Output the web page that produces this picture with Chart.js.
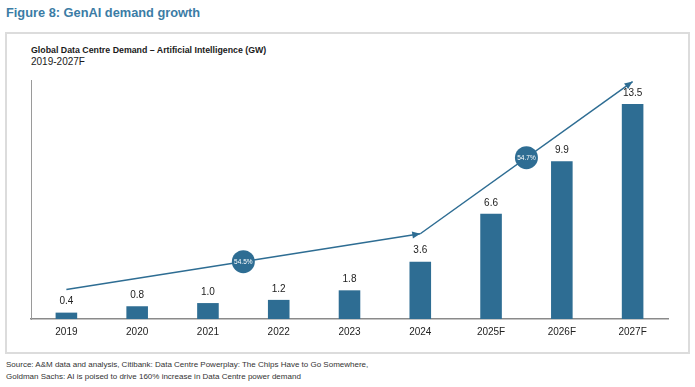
<!DOCTYPE html>
<html>
<head>
<meta charset="utf-8">
<script src="https://cdn.jsdelivr.net/npm/chart.js@4.4.1/dist/chart.umd.min.js"></script>
<style>
  html, body { margin: 0; padding: 0; background: #fff; }
  body { width: 695px; height: 387px; position: relative; overflow: hidden;
         font-family: "Liberation Sans", Arial, Helvetica, sans-serif; }
  .heading { position: absolute; left: 6px; top: 5px; font-size: 12.8px; line-height: 16px;
             font-weight: bold; color: #3b7ca5; white-space: nowrap; }
  .panel { position: absolute; left: 5px; top: 32px; width: 685px; height: 322px;
           box-sizing: border-box; border: 2px solid #dcdcdc; }
  .title { position: absolute; left: 31px; top: 45px; font-size: 8.8px; line-height: 11px;
           font-weight: bold; color: #1a1a1a; white-space: nowrap; }
  .subtitle { position: absolute; left: 31px; top: 56px; font-size: 10px; line-height: 12px;
              color: #1a1a1a; white-space: nowrap; }
  .source { position: absolute; left: 6px; top: 359px; font-size: 8px; line-height: 12px;
            color: #333; white-space: nowrap; }
  #chart { position: absolute; left: 0; top: 0; }
</style>
</head>
<body>
<div class="heading">Figure 8: GenAI demand growth</div>
<div class="panel"></div>
<div class="title">Global Data Centre Demand – Artificial Intelligence (GW)</div>
<div class="subtitle">2019-2027F</div>
<div class="source">Source: A&amp;M data and analysis, Citibank: Data Centre Powerplay: The Chips Have to Go Somewhere,<br>Goldman Sachs: AI is poised to drive 160% increase in Data Centre power demand</div>
<canvas id="chart" width="695" height="387"></canvas>

<script>
// chart values
const years = ['2019', '2020', '2021', '2022', '2023', '2024', '2025F', '2026F', '2027F'];
const demandGW = [0.4, 0.8, 1.0, 1.2, 1.8, 3.6, 6.6, 9.9, 13.5];

// growth arrows (start / end heights)
const trendEarly = [1.85, null, null, null, null, 5.35, null, null, null];
const trendLate = [null, null, null, null, null, 5.35, null, null, 14.9];
const cagrLabels = ['54.5%', '54.7%'];

const blue = '#2e6d93';
const font = '"Liberation Sans", Arial, Helvetica, sans-serif';

// value labels above the bars
const barLabels = {
    id: 'barLabels',
    afterDatasetsDraw(chart) {
        const ctx = chart.ctx;
        const meta = chart.getDatasetMeta(0);
        ctx.save();
        ctx.font = '10px ' + font;
        ctx.fillStyle = '#222';
        ctx.textAlign = 'center';
        ctx.textBaseline = 'middle';
        meta.data.forEach((bar, i) => {
            ctx.fillText(demandGW[i].toFixed(1), bar.x, bar.y - 11);
        });
        ctx.restore();
    }
};

// arrow heads and the CAGR bubbles
const arrowMarks = {
    id: 'arrowMarks',
    afterDatasetsDraw(chart) {
        const ctx = chart.ctx;
        const xs = chart.scales.x, ys = chart.scales.y;
        [trendEarly, trendLate].forEach((arr, k) => {
            const idx = arr.map((v, i) => v === null ? -1 : i).filter(i => i >= 0);
            const a = idx[0], b = idx[idx.length - 1];
            const x0 = xs.getPixelForValue(a), y0 = ys.getPixelForValue(arr[a]);
            const x1 = xs.getPixelForValue(b), y1 = ys.getPixelForValue(arr[b]);
            const ang = Math.atan2(y1 - y0, x1 - x0);
            ctx.save();
            ctx.fillStyle = blue;
            // head
            ctx.translate(x1, y1);
            ctx.rotate(ang);
            ctx.beginPath();
            ctx.moveTo(0, 0);
            ctx.lineTo(-8, -3.5);
            ctx.lineTo(-8, 3.5);
            ctx.closePath();
            ctx.fill();
            ctx.restore();
            // bubble
            const mx = (x0 + x1) / 2, my = (y0 + y1) / 2;
            ctx.save();
            ctx.fillStyle = blue;
            ctx.beginPath();
            ctx.arc(mx, my, 11.5, 0, Math.PI * 2);
            ctx.fill();
            ctx.fillStyle = '#fff';
            ctx.font = '6.5px ' + font;
            ctx.textAlign = 'center';
            ctx.textBaseline = 'middle';
            ctx.fillText(cagrLabels[k], mx, my + 0.5);
            ctx.restore();
        });
    }
};

new Chart(document.getElementById('chart'), {
    type: 'bar',
    data: {
        labels: years,
        datasets: [
            {
                data: demandGW,
                backgroundColor: blue,
                barPercentage: 0.305,
                categoryPercentage: 1,
                order: 2
            },
            {
                type: 'line',
                data: trendEarly,
                borderColor: blue,
                borderWidth: 1.5,
                pointRadius: 0,
                spanGaps: true,
                clip: false,
                order: 1
            },
            {
                type: 'line',
                data: trendLate,
                borderColor: blue,
                borderWidth: 1.5,
                pointRadius: 0,
                spanGaps: true,
                clip: false,
                order: 1
            }
        ]
    },
    options: {
        responsive: false,
        animation: false,
        devicePixelRatio: 1,
        layout: { padding: { left: 31, right: 27, top: 80, bottom: 42 } },
        plugins: { legend: { display: false }, tooltip: { enabled: false } },
        scales: {
            x: {
                grid: { display: false, drawTicks: false },
                border: { display: true, color: '#8a8a8a', width: 1.5 },
                ticks: { color: '#222', font: { family: font, size: 10 }, padding: 7, maxRotation: 0 }
            },
            y: {
                min: 0,
                max: 15,
                grid: { display: false, drawTicks: false },
                border: { display: true, color: '#9a9a9a', width: 1 },
                ticks: { display: false }
            }
        }
    },
    plugins: [barLabels, arrowMarks]
});
</script>
</body>
</html>
